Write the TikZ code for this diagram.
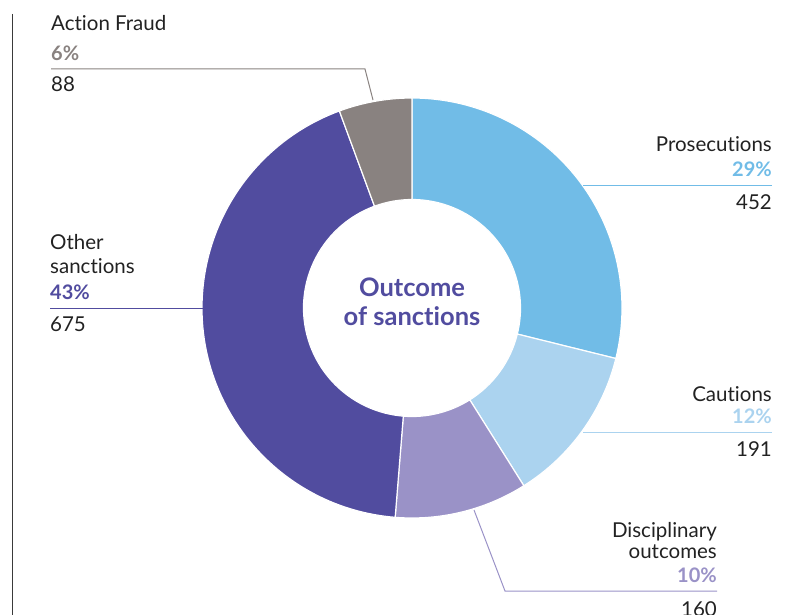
\documentclass[tikz,border=0pt]{standalone}
\usepackage{fontspec}
\setmainfont{Lato}[Ligatures={NoCommon,NoRare,NoContextual}]
\definecolor{pros}{HTML}{71BCE7}
\definecolor{caut}{HTML}{ABD3EF}
\definecolor{disc}{HTML}{9A92C7}
\definecolor{other}{HTML}{514C9F}
\definecolor{fraud}{HTML}{898280}
\definecolor{txt}{HTML}{222222}
\definecolor{rule}{HTML}{3A3A3A}
\begin{document}
\begin{tikzpicture}[x=1pt,y=-1pt,
  lbl/.style={inner sep=0pt,font=\fontsize{20.5}{24}\selectfont,text=txt},
  pct/.style={inner sep=0pt,font=\fontsize{20}{24}\selectfont\bfseries},
  leader/.style={line width=1pt},
  slice/.style={draw=white,line width=1.2pt}]
\useasboundingbox (0,0) rectangle (787,615);
\draw[rule,line width=1.5pt] (12.5,14) coordinate (vtop) -- (12.5,615) coordinate (vbot);
% donut
\begin{scope}[shift={(412,308)},x=1pt,y=1pt]
\def\R{210pt}\def\r{108.5pt}
\fill[pros,slice] (90:\R) arc[start angle=90,end angle=-13.91,radius=\R] -- (-13.91:\r) arc[start angle=-13.91,end angle=90,radius=\r] -- cycle;
\fill[caut,slice] (-13.91:\R) arc[start angle=-13.91,end angle=-57.82,radius=\R] -- (-57.82:\r) arc[start angle=-57.82,end angle=-13.91,radius=\r] -- cycle;
\fill[disc,slice] (-57.82:\R) arc[start angle=-57.82,end angle=-94.60,radius=\R] -- (-94.60:\r) arc[start angle=-94.60,end angle=-57.82,radius=\r] -- cycle;
\fill[other,slice] (-94.60:\R) arc[start angle=-94.60,end angle=-249.77,radius=\R] -- (-249.77:\r) arc[start angle=-249.77,end angle=-94.60,radius=\r] -- cycle;
\fill[fraud,slice] (-249.77:\R) arc[start angle=-249.77,end angle=-270,radius=\R] -- (-270:\r) arc[start angle=-270,end angle=-249.77,radius=\r] -- cycle;
\end{scope}
\node[inner sep=0pt,font=\fontsize{25.5}{29}\selectfont\bfseries,text=other,anchor=base] (c1) at (412,296) {Outcome};
\node[inner sep=0pt,font=\fontsize{25.5}{29}\selectfont\bfseries,text=other,anchor=base] (c2) at (412,325) {of sanctions};
% Action Fraud
\node[lbl,anchor=base west] (af1) at (51,31) {Action Fraud};
\node[pct,text=fraud,anchor=base west] (af2) at (51,61) {6\%};
\node[lbl,anchor=base west] (af3) at (51,92) {88};
\coordinate (afa) at (51,69);
\coordinate (afb) at (365,69);
\coordinate (afc) at (373,100);
\draw[leader,fraud] (afa) -- (afb) -- (afc);
% Prosecutions
\node[lbl,anchor=base east] (pr1) at (772,152) {Prosecutions};
\node[pct,text=pros,anchor=base east] (pr2) at (772,176) {29\%};
\node[lbl,anchor=base east] (pr3) at (772,209) {452};
\coordinate (pra) at (772,185);
\coordinate (prb) at (583,185);
\draw[leader,pros] (pra) -- (prb);
% Cautions
\node[lbl,anchor=base east] (ca1) at (772,401) {Cautions};
\node[pct,text=caut,anchor=base east] (ca2) at (772,423) {12\%};
\node[lbl,anchor=base east] (ca3) at (772,456) {191};
\coordinate (caa) at (772,432);
\coordinate (cab) at (583,432);
\draw[leader,caut] (caa) -- (cab);
% Disciplinary
\node[lbl,anchor=base east] (di1) at (717,537) {Disciplinary};
\node[lbl,anchor=base east] (di2) at (717,558) {outcomes};
\node[pct,text=disc,anchor=base east] (di3) at (717,582) {10\%};
\node[lbl,anchor=base east] (di4) at (717,616) {160};
\coordinate (dia) at (717,591);
\coordinate (dib) at (505,591);
\coordinate (dic) at (474,510);
\draw[leader,disc] (dia) -- (dib) -- (dic);
% Other sanctions
\node[lbl,anchor=base west] (ot1) at (50,249) {Other};
\node[lbl,anchor=base west] (ot2) at (50,273) {sanctions};
\node[pct,text=other,anchor=base west] (ot3) at (50,299) {43\%};
\node[lbl,anchor=base west] (ot4) at (50,331) {675};
\coordinate (ota) at (50,308);
\coordinate (otb) at (203,308);
\draw[leader,other] (ota) -- (otb);
\end{tikzpicture}
\end{document}
